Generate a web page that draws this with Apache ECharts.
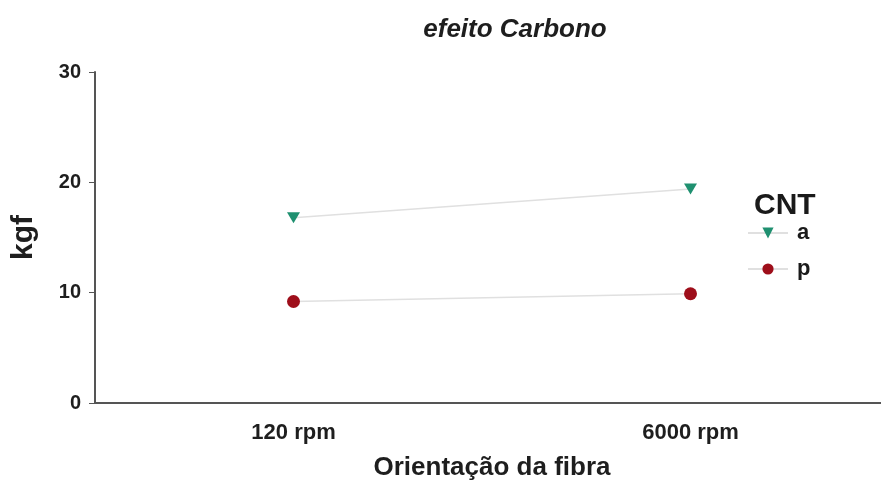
<!DOCTYPE html>
<html>
<head>
<meta charset="utf-8">
<script src="https://cdn.jsdelivr.net/npm/echarts@6/dist/echarts.min.js"></script>
<style>html,body{margin:0;padding:0;background:#fff}#c{width:881px;height:484px}</style>
</head>
<body>
<div id="c"></div>
<script>
const categories = ['120 rpm', '6000 rpm'];
const seriesA = [16.8, 19.4];
const seriesP = [9.2, 9.9];
const yTicks = [0, 10, 20, 30];
const legendTitle = 'CNT';
const chartTitle = 'efeito Carbono';

const chart = echarts.init(document.getElementById('c'));
const font = 'Liberation Sans, Arial, sans-serif';
const downTri = 'path://M0,0 L10,0 L5,8.66 Z';
chart.setOption({
  animation: false,
  title: {
    text: chartTitle, left: 510, top: 12, textAlign: 'center',
    textStyle: {fontFamily: font, fontSize: 26, fontStyle: 'italic', fontWeight: 'bold', color: '#1e1e1e'}
  },
  graphic: [{
    type: 'text', left: 754, top: 191,
    style: {text: legendTitle, fontFamily: font, fontSize: 30, fontWeight: 'bold', fill: '#1a1a1a'}
  }],
  legend: {
    orient: 'vertical', left: 742, top: 217, itemGap: 14, itemWidth: 40, itemHeight: 14,
    textStyle: {fontFamily: font, fontSize: 22, fontWeight: 'bold', color: '#1a1a1a', padding: [0,0,0,4]},
    data: [{name: 'a'}, {name: 'p'}]
  },
  grid: {left: 95, width: 794, top: 72, bottom: 81, outerBoundsMode: 'none', containLabel: false},
  xAxis: {
    type: 'category', data: categories, boundaryGap: true,
    name: 'Orientação da fibra', nameLocation: 'middle', nameGap: 52,
    nameTextStyle: {fontFamily: font, fontSize: 26, fontWeight: 'bold', color: '#1e1e1e'},
    axisLine: {lineStyle: {color: '#555', width: 2}},
    axisTick: {alignWithLabel: true, length: 5, lineStyle: {color: '#555'}},
    axisLabel: {fontFamily: font, fontSize: 22, fontWeight: 'bold', color: '#1e1e1e', margin: 19}
  },
  yAxis: {
    type: 'value', min: 0, max: 30, interval: 10,
    name: 'kgf', nameLocation: 'middle', nameGap: 56, nameRotate: 90,
    nameTextStyle: {fontFamily: font, fontSize: 30, fontWeight: 'bold', color: '#1e1e1e'},
    axisLine: {show: true, lineStyle: {color: '#555', width: 2}},
    axisTick: {show: true, length: 6, lineStyle: {color: '#555'}},
    axisLabel: {fontFamily: font, fontSize: 20, fontWeight: 'bold', color: '#1e1e1e', margin: 14},
    splitLine: {show: false}
  },
  series: [
    {
      name: 'a', type: 'line', data: seriesA, symbol: downTri, symbolSize: [13, 11],
      itemStyle: {color: '#1f9070'}, lineStyle: {color: '#e0e0e0', width: 1.5}
    },
    {
      name: 'p', type: 'line', data: seriesP, symbol: 'circle', symbolSize: 13,
      itemStyle: {color: '#9e0e1a'}, lineStyle: {color: '#e0e0e0', width: 1.5}
    }
  ]
});
</script>
</body>
</html>
